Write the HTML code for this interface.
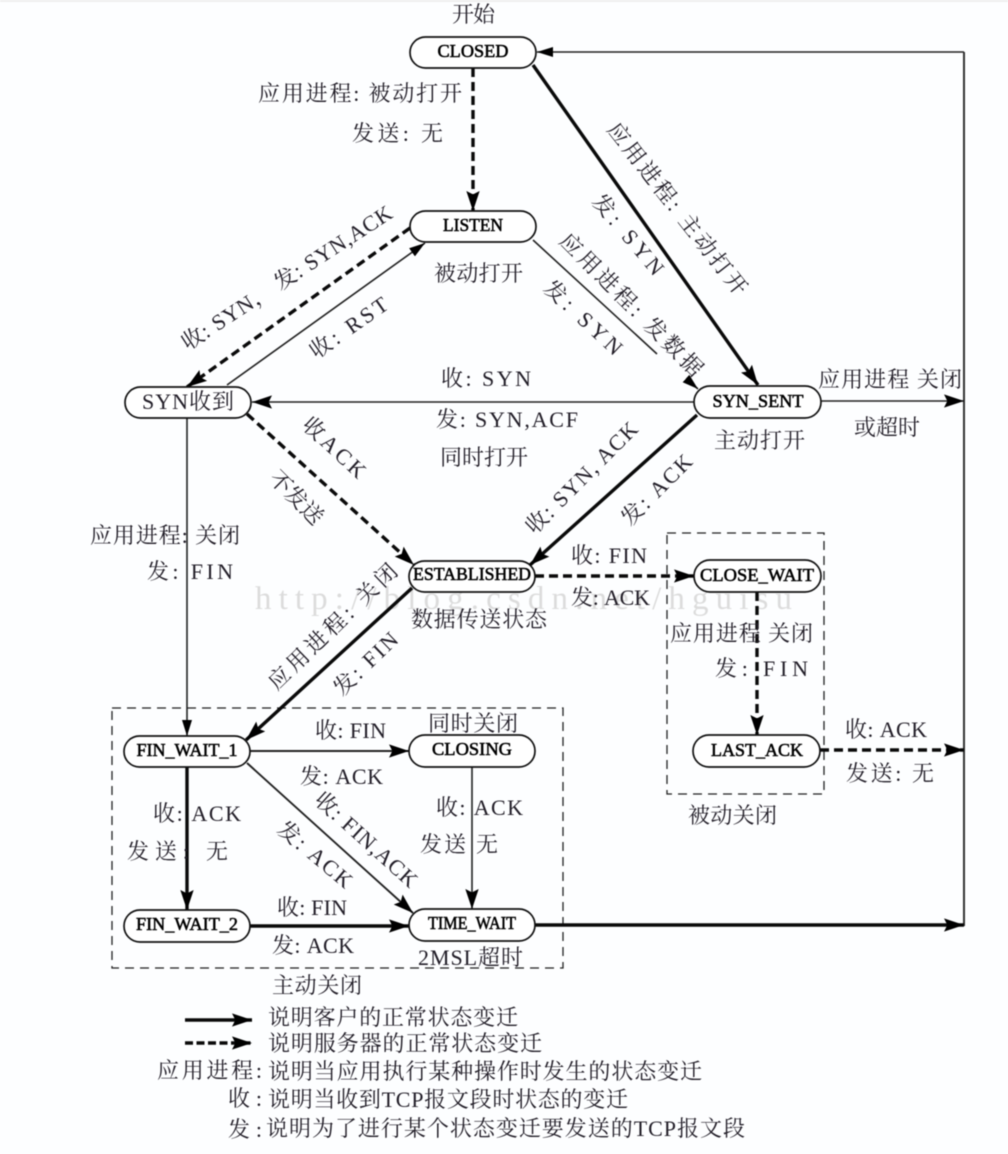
<!DOCTYPE html>
<html lang="zh">
<head>
<meta charset="utf-8">
<title>TCP 状态变迁图</title>
<style>
html,body{margin:0;padding:0;background:#fdfeff;}
body{width:1008px;height:1154px;overflow:hidden;}
svg{display:block;filter:blur(.5px);}
.t{font-family:"Liberation Serif","Noto Serif CJK SC",serif;font-size:22px;fill:#221e28;}
.n{font-family:"Liberation Serif",serif;font-size:18px;fill:#000;stroke:#000;stroke-width:.55;text-anchor:middle;}
.node{fill:#fff;stroke:#111;stroke-width:1.7;}
.thin{stroke:#222;stroke-width:1.6;fill:none;}
.thick{stroke:#0a0a0a;stroke-width:3.4;fill:none;}
.dash{stroke:#0a0a0a;stroke-width:3.4;fill:none;stroke-dasharray:9 5;}
.box{stroke:#222;stroke-width:1.3;fill:none;stroke-dasharray:9 6;}
</style>
</head>
<body>
<svg width="1008" height="1154" viewBox="0 0 1008 1154" xmlns="http://www.w3.org/2000/svg">
<defs>
<marker id="a" markerUnits="userSpaceOnUse" markerWidth="20" markerHeight="14" viewBox="0 0 18 12" refX="18" refY="6" orient="auto"><path d="M0 0L18 6L0 12L3 6Z" fill="#000"/></marker>
<marker id="b" markerUnits="userSpaceOnUse" markerWidth="16" markerHeight="12" viewBox="0 0 16 12" refX="16" refY="6" orient="auto"><path d="M0 1L16 6L0 11Z" fill="#000"/></marker>
</defs>
<rect width="1008" height="1154" fill="#fdfeff"/>
<rect width="1008" height="2" fill="#efefef"/>

<text x="255" y="609" font-family="Liberation Serif,serif" font-size="33" fill="#dcdcdc" textLength="537">http://blog.csdn.net/hguisu</text>

<rect class="box" x="112" y="708" width="451" height="260"/>
<rect class="box" x="667" y="533" width="157" height="261"/>

<!-- connectors -->
<path d="M964 52V926" fill="none" stroke="#333" stroke-width="2"/>
<line class="thin" x1="964" y1="52" x2="537" y2="52" marker-end="url(#b)"/>
<line class="dash" x1="473" y1="68" x2="473" y2="211" marker-end="url(#a)"/>
<line class="thick" x1="533" y1="65" x2="758" y2="385" marker-end="url(#a)"/>
<line class="thin" x1="533" y1="240" x2="657" y2="354"/>
<line class="thin" x1="690" y1="382" x2="698" y2="389" marker-end="url(#b)"/>
<line class="thin" x1="227" y1="385" x2="425" y2="243" marker-end="url(#b)"/>
<line class="dash" x1="410" y1="228" x2="187" y2="387" marker-end="url(#a)"/>
<line class="thin" x1="694" y1="402" x2="252" y2="402" marker-end="url(#a)"/>
<line class="thin" x1="821" y1="401" x2="964" y2="401" marker-end="url(#a)"/>
<line class="thin" x1="187" y1="418" x2="187" y2="736" marker-end="url(#b)"/>
<line class="dash" x1="247" y1="414" x2="414" y2="565" marker-end="url(#a)"/>
<line class="thick" x1="697" y1="415" x2="530" y2="565" marker-end="url(#a)"/>
<line class="thick" x1="412" y1="588" x2="246" y2="740" marker-end="url(#a)"/>
<line class="dash" x1="535" y1="576" x2="694" y2="576" marker-end="url(#a)"/>
<line class="dash" x1="757" y1="592" x2="757" y2="735" marker-end="url(#a)"/>
<line class="dash" x1="820" y1="750" x2="964" y2="750" marker-end="url(#a)"/>
<line class="thin" x1="250" y1="751" x2="409" y2="751" style="stroke-width:1.9" marker-end="url(#a)"/>
<line class="thin" x1="247" y1="763" x2="413" y2="913" style="stroke-width:1.9" marker-end="url(#a)"/>
<line class="thick" x1="187" y1="767" x2="187" y2="910" marker-end="url(#a)"/>
<line class="thin" x1="472" y1="767" x2="472" y2="909" marker-end="url(#a)"/>
<line class="thick" x1="250" y1="926" x2="409" y2="926" marker-end="url(#a)"/>
<line class="thick" x1="535" y1="925" x2="964" y2="925" marker-end="url(#a)"/>

<!-- nodes -->
<rect class="node" x="410" y="37" width="126" height="31" rx="15.5"/>
<rect class="node" x="410" y="211" width="126" height="31" rx="15.5"/>
<rect class="node" x="125" y="387" width="126" height="31" rx="15.5"/>
<rect class="node" x="694" y="386" width="127" height="32" rx="16"/>
<rect class="node" x="409" y="561" width="126" height="31" rx="15.5"/>
<rect class="node" x="694" y="560" width="127" height="32" rx="16"/>
<rect class="node" x="693" y="735" width="127" height="32" rx="16"/>
<rect class="node" x="124" y="736" width="126" height="31" rx="15.5"/>
<rect class="node" x="409" y="735" width="126" height="32" rx="16"/>
<rect class="node" x="124" y="910" width="126" height="32" rx="16"/>
<rect class="node" x="409" y="909" width="126" height="32" rx="16"/>

<text class="n" x="473" y="57" textLength="71" lengthAdjust="spacingAndGlyphs">CLOSED</text>
<text class="n" x="473" y="231" textLength="60" lengthAdjust="spacingAndGlyphs">LISTEN</text>
<text class="t" x="142" y="409" textLength="92">SYN收到</text>
<text class="n" x="758" y="407" textLength="91" lengthAdjust="spacingAndGlyphs">SYN_SENT</text>
<text class="n" x="472" y="580" textLength="118" lengthAdjust="spacingAndGlyphs">ESTABLISHED</text>
<text class="n" x="757" y="581" textLength="114" lengthAdjust="spacingAndGlyphs">CLOSE_WAIT</text>
<text class="n" x="757" y="756" textLength="92" lengthAdjust="spacingAndGlyphs">LAST_ACK</text>
<text class="n" x="187" y="756" textLength="101" lengthAdjust="spacingAndGlyphs">FIN_WAIT_1</text>
<text class="n" x="472" y="755" textLength="80" lengthAdjust="spacingAndGlyphs">CLOSING</text>
<text class="n" x="187" y="930" textLength="102" lengthAdjust="spacingAndGlyphs">FIN_WAIT_2</text>
<text class="n" x="472" y="929" textLength="88" lengthAdjust="spacingAndGlyphs">TIME_WAIT</text>

<!-- horizontal labels -->
<text class="t" x="452" y="22" textLength="43">开始</text>
<text class="t" x="258" y="101" textLength="204">应用进程: 被动打开</text>
<text class="t" x="352" y="141" textLength="91">发送: 无</text>
<text class="t" x="434" y="281" textLength="89">被动打开</text>
<text class="t" x="441" y="386" textLength="90">收: SYN</text>
<text class="t" x="436" y="427" textLength="142">发: SYN,ACF</text>
<text class="t" x="440" y="465" textLength="88">同时打开</text>
<text class="t" x="818" y="387" textLength="144">应用进程 关闭</text>
<text class="t" x="854" y="435" textLength="66">或超时</text>
<text class="t" x="714" y="448" textLength="91">主动打开</text>
<text class="t" x="571" y="563" textLength="76">收: FIN</text>
<text class="t" x="571" y="605" textLength="79">发: ACK</text>
<text class="t" x="411" y="627" textLength="136">数据传送状态</text>
<text class="t" x="90" y="543" textLength="150">应用进程: 关闭</text>
<text class="t" x="147" y="579" textLength="86">发:   FIN</text>
<text class="t" x="670" y="641" textLength="143">应用进程  关闭</text>
<text class="t" x="715" y="676" textLength="93">发:   FIN</text>
<text class="t" x="845" y="737" textLength="82">收: ACK</text>
<text class="t" x="846" y="781" textLength="88">发送: 无</text>
<text class="t" x="688" y="823" textLength="89">被动关闭</text>
<text class="t" x="428" y="731" textLength="90">同时关闭</text>
<text class="t" x="315" y="738" textLength="71">收: FIN</text>
<text class="t" x="300" y="784" textLength="83">发: ACK</text>
<text class="t" x="153" y="821" textLength="88">收: ACK</text>
<text class="t" x="127" y="859" textLength="101">发送:  无</text>
<text class="t" x="436" y="815" textLength="87">收: ACK</text>
<text class="t" x="420" y="852" textLength="78">发送 无</text>
<text class="t" x="277" y="915" textLength="70">收: FIN</text>
<text class="t" x="272" y="953" textLength="82">发: ACK</text>
<text class="t" x="418" y="965" textLength="105">2MSL超时</text>
<text class="t" x="272" y="993" textLength="90">主动关闭</text>

<!-- rotated labels -->
<text class="t" text-anchor="middle" y="7" textLength="246" transform="translate(287 278) rotate(-33)">收: SYN， 发: SYN,ACK</text>
<text class="t" text-anchor="middle" y="7" textLength="90" transform="translate(349 328) rotate(-35)">收: RST</text>
<text class="t" text-anchor="middle" y="7" textLength="78" transform="translate(334 448) rotate(43)">收ACK</text>
<text class="t" text-anchor="middle" y="7" textLength="66" transform="translate(296 498) rotate(45)">不发送</text>
<text class="t" text-anchor="middle" y="7" textLength="212" transform="translate(677 209) rotate(52)">应用进程:  主动打开</text>
<text class="t" text-anchor="middle" y="7" textLength="98" transform="translate(628 235) rotate(50)">发:  SYN</text>
<text class="t" text-anchor="middle" y="7" textLength="192" transform="translate(631 305) rotate(45)">应用进程: 发数据</text>
<text class="t" text-anchor="middle" y="7" textLength="98" transform="translate(583 318) rotate(43)">发:  SYN</text>
<text class="t" text-anchor="middle" y="7" textLength="148" transform="translate(582 478) rotate(-45)">收: SYN, ACK</text>
<text class="t" text-anchor="middle" y="7" textLength="90" transform="translate(657 490) rotate(-45)">发: ACK</text>
<text class="t" text-anchor="middle" y="7" textLength="170" transform="translate(333 627) rotate(-44)">应用进程: 关闭</text>
<text class="t" text-anchor="middle" y="7" textLength="80" transform="translate(366 664) rotate(-44)">发: FIN</text>
<text class="t" text-anchor="middle" y="7" textLength="130" transform="translate(366 840) rotate(42)">收: FIN,ACK</text>
<text class="t" text-anchor="middle" y="7" textLength="90" transform="translate(315 855) rotate(40)">发: ACK</text>

<!-- legend -->
<line class="thick" x1="185" y1="1020" x2="252" y2="1020" marker-end="url(#a)"/>
<line class="dash" x1="185" y1="1043" x2="252" y2="1043" style="stroke-dasharray:8 3.5" marker-end="url(#a)"/>
<text class="t" x="268" y="1025" textLength="250">说明客户的正常状态变迁</text>
<text class="t" x="268" y="1051" textLength="274">说明服务器的正常状态变迁</text>
<text class="t" x="157" y="1078" textLength="105">应用进程:</text>
<text class="t" x="268" y="1079" textLength="434">说明当应用执行某种操作时发生的状态变迁</text>
<text class="t" x="228" y="1106" textLength="34">收:</text>
<text class="t" x="268" y="1107" textLength="360">说明当收到TCP报文段时状态的变迁</text>
<text class="t" x="228" y="1137" textLength="34">发:</text>
<text class="t" x="266" y="1136" textLength="479">说明为了进行某个状态变迁要发送的TCP报文段</text>
</svg>
</body>
</html>
